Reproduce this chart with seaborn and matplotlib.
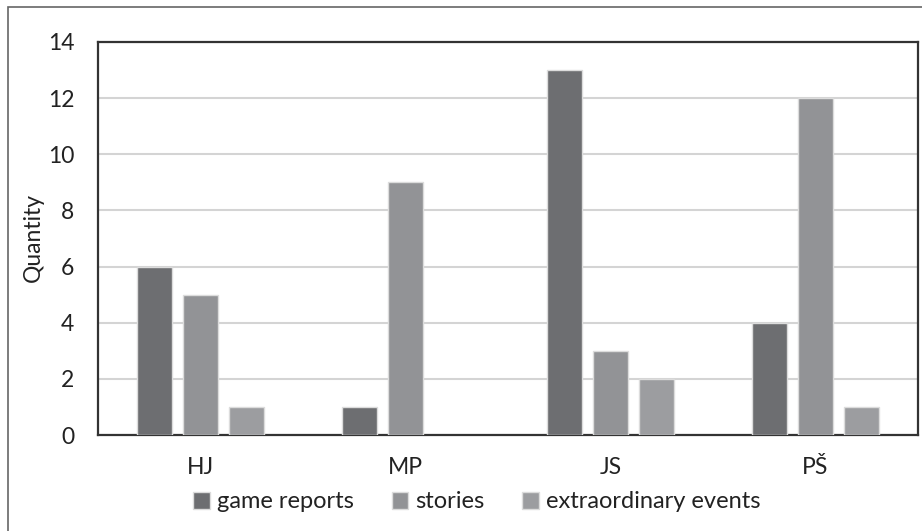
import numpy as np
import pandas as pd
import seaborn as sns
from matplotlib import pyplot as plt
from matplotlib.patches import Rectangle

# %% Data
CATEGORIES = ["HJ", "MP", "JS", "PŠ"]
SERIES = ["game reports", "stories", "extraordinary events"]
GAME_REPORTS = [6, 1, 13, 4]
STORIES = [5, 9, 3, 12]
EXTRAORDINARY = [1, 0, 2, 1]
COLORS = ["#6d6e71", "#929396", "#9c9da0"]

df = pd.DataFrame(
    {
        "author": CATEGORIES * 3,
        "type": np.repeat(SERIES, len(CATEGORIES)),
        "quantity": GAME_REPORTS + STORIES + EXTRAORDINARY,
    }
)

# %% Plot
sns.set_style("white")
plt.rcParams["font.family"] = ["Lato", "DejaVu Sans"]
FS = 16.5
TXT = "#222222"

fig = plt.figure(figsize=(9.22, 5.31), dpi=100)
ax = fig.add_axes([98 / 922, 1 - 435 / 531, 820 / 922, 393 / 531])

sns.barplot(
    df,
    x="author",
    y="quantity",
    hue="type",
    order=CATEGORIES,
    hue_order=SERIES,
    palette=COLORS,
    width=0.673,
    gap=0.22,
    edgecolor="#dcdcdc",
    linewidth=1,
    saturation=1,
    ax=ax,
    zorder=3,
)
# empty bars draw nothing in the original
for cont in ax.containers:
    for bar in cont:
        if bar.get_height() == 0:
            bar.set_visible(False)

ax.set_ylim(0, 14)
ax.set_yticks(range(0, 15, 2))
ax.yaxis.grid(True, color="#d4d4d4", lw=1.5, zorder=0)
ax.set_axisbelow(True)
for sp in ax.spines.values():
    sp.set_color("#333333")
    sp.set_linewidth(1.6)
ax.tick_params(axis="both", length=0, labelsize=FS, colors=TXT)
ax.tick_params(axis="x", pad=16)
ax.tick_params(axis="y", pad=17)
ax.set_xlabel("")
ax.set_ylabel("")
fig.text(33 / 922, 1 - 238 / 531, "Quantity", rotation=90, ha="center", va="center",
         fontsize=FS, color=TXT)

handles, labels = ax.get_legend_handles_labels()
ax.legend_.remove()
fig.legend(
    handles,
    labels,
    loc="center",
    bbox_to_anchor=(477 / 922, 1 - 502 / 531),
    ncol=3,
    frameon=False,
    fontsize=FS + 0.5,
    handlelength=0.7,
    handleheight=0.7,
    handletextpad=0.3,
    columnspacing=1.6,
    labelcolor=TXT,
)

# outer frame of the chart area
fig.patches.append(
    Rectangle(
        (8 / 922, -0.1),
        1.2,
        1.1 - 7 / 531,
        transform=fig.transFigure,
        fill=False,
        edgecolor="#666666",
        lw=1.2,
    )
)

fig.savefig("out.png", dpi=100)
